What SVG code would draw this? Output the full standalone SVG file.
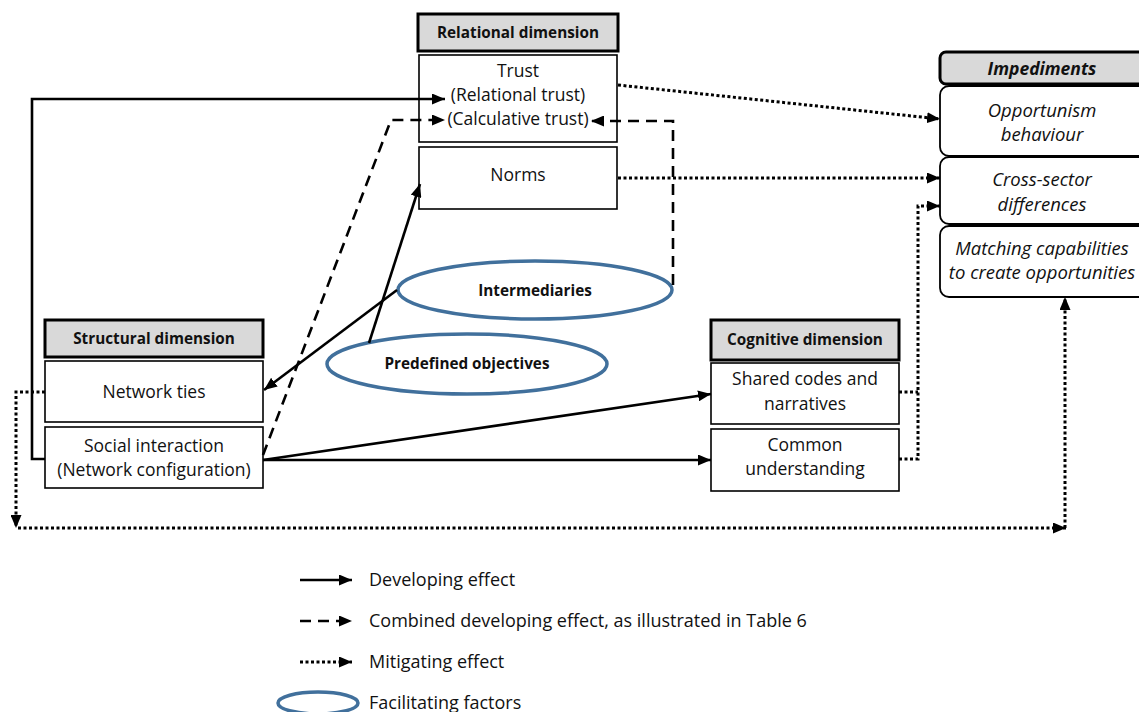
<svg xmlns="http://www.w3.org/2000/svg" width="1139" height="712" viewBox="0 0 1139 712">
<defs>
<marker id="arr" markerUnits="userSpaceOnUse" markerWidth="13" markerHeight="11" refX="13" refY="5.5" orient="auto">
<path d="M0,0 L13,5.5 L0,11 z" fill="#000"/>
</marker>
</defs>
<style>
text{font-family:"Open Sans","Noto Sans",sans-serif;fill:#111;text-anchor:middle;}
.t{font-size:17.5px;}
.h{font-size:15.3px;font-weight:bold;}
.i{font-size:18.5px;font-style:italic;}
.hd{fill:#d9d9d9;stroke:#000;stroke-width:3;}
.bx{fill:#fff;stroke:#000;stroke-width:1.6;}
.rb{fill:#fff;stroke:#000;stroke-width:1.8;}
.el{fill:#fff;stroke:#41709c;stroke-width:3.5;}
.et{font-size:15.3px;font-weight:bold;}
.so{fill:none;stroke:#000;stroke-width:2.6;}
.da{fill:none;stroke:#000;stroke-width:2.6;stroke-dasharray:11 7;}
.do{fill:none;stroke:#000;stroke-width:3;stroke-dasharray:3 2.5;}
.lg{font-size:18px;text-anchor:start;}
</style>
<rect width="1139" height="712" fill="#fff"/>

<g id="relational">
<rect class="hd" x="418" y="14" width="200" height="37"/>
<text class="h" x="518" y="38">Relational dimension</text>
<rect class="bx" x="419" y="55" width="198" height="87"/>
<text class="t" x="518" y="77">Trust</text>
<text class="t" x="518" y="101">(Relational trust)</text>
<text class="t" x="518" y="125">(Calculative trust)</text>
<rect class="bx" x="419" y="147" width="198" height="62"/>
<text class="t" x="518" y="181">Norms</text>
</g>

<g id="impediments">
<rect class="hd" x="940" y="52" width="210" height="32" rx="6"/>
<text class="i" x="1042" y="75" font-weight="bold" style="font-size:17.5px">Impediments</text>
<rect class="rb" x="940" y="86" width="210" height="70" rx="9"/>
<text class="i" x="1042" y="117">Opportunism</text>
<text class="i" x="1042" y="141">behaviour</text>
<rect class="rb" x="940" y="157" width="210" height="67" rx="9"/>
<text class="i" x="1042" y="186">Cross-sector</text>
<text class="i" x="1042" y="211">differences</text>
<rect class="rb" x="940" y="226" width="210" height="71" rx="9"/>
<text class="i" x="1042" y="255">Matching capabilities</text>
<text class="i" x="1042" y="279">to create opportunities</text>
</g>

<g id="structural">
<rect class="hd" x="45" y="320" width="218" height="37"/>
<text class="h" x="154" y="344">Structural dimension</text>
<rect class="bx" x="45" y="361" width="218" height="61"/>
<text class="t" x="154" y="398">Network ties</text>
<rect class="bx" x="45" y="427" width="218" height="61"/>
<text class="t" x="154" y="452">Social interaction</text>
<text class="t" x="154" y="476">(Network configuration)</text>
</g>

<g id="cognitive">
<rect class="hd" x="711" y="320" width="188" height="40"/>
<text class="h" x="805" y="345">Cognitive dimension</text>
<rect class="bx" x="711" y="363" width="188" height="61"/>
<text class="t" x="805" y="385">Shared codes and</text>
<text class="t" x="805" y="410">narratives</text>
<rect class="bx" x="711" y="429" width="188" height="62"/>
<text class="t" x="805" y="451">Common</text>
<text class="t" x="805" y="475">understanding</text>
</g>

<g id="intermediaries">
<ellipse class="el" cx="535" cy="290" rx="137" ry="29"/>
<text class="et" x="535" y="296">Intermediaries</text>
</g>

<g id="predefined">
<ellipse class="el" cx="467" cy="364" rx="140" ry="30"/>
<text class="et" x="467" y="369">Predefined objectives</text>
</g>

<g id="connectors">
<path class="so" d="M45,459 L32,459 L32,99 L445,99" marker-end="url(#arr)"/>
<path class="da" d="M263,455 L391,120 L445,120" marker-end="url(#arr)"/>
<path class="da" d="M673,285 L673,121 L591,121" marker-end="url(#arr)"/>
<path class="so" d="M369,343 L420,184" marker-end="url(#arr)"/>
<path class="so" d="M397,290 L264,390" marker-end="url(#arr)"/>
<path class="so" d="M263,460 L711,394" marker-end="url(#arr)"/>
<path class="so" d="M263,460 L711,460" marker-end="url(#arr)"/>
<path class="do" d="M618,85 L940,119" marker-end="url(#arr)"/>
<path class="do" d="M618,178 L940,178" marker-end="url(#arr)"/>
<path class="do" d="M899,392 L918,392 M899,459 L918,459 L918,206 L940,206" marker-end="url(#arr)"/>
<path class="do" d="M45,392 L16,392 L16,528" marker-end="url(#arr)"/>
<path class="do" d="M18,528 L1066,528" marker-end="url(#arr)"/>
<path class="do" d="M1065,528 L1065,297" marker-end="url(#arr)"/>
</g>

<g id="legend">
<path class="so" d="M300,580 L352,580" marker-end="url(#arr)"/>
<text class="lg" x="369" y="586">Developing effect</text>
<path class="da" d="M300,621 L352,621" marker-end="url(#arr)"/>
<text class="lg" x="369" y="627">Combined developing effect, as illustrated in Table 6</text>
<path class="do" d="M300,662 L352,662" marker-end="url(#arr)"/>
<text class="lg" x="369" y="668">Mitigating effect</text>
<ellipse class="el" cx="318" cy="703" rx="40" ry="11"/>
<text class="lg" x="369" y="709">Facilitating factors</text>
</g>
</svg>
